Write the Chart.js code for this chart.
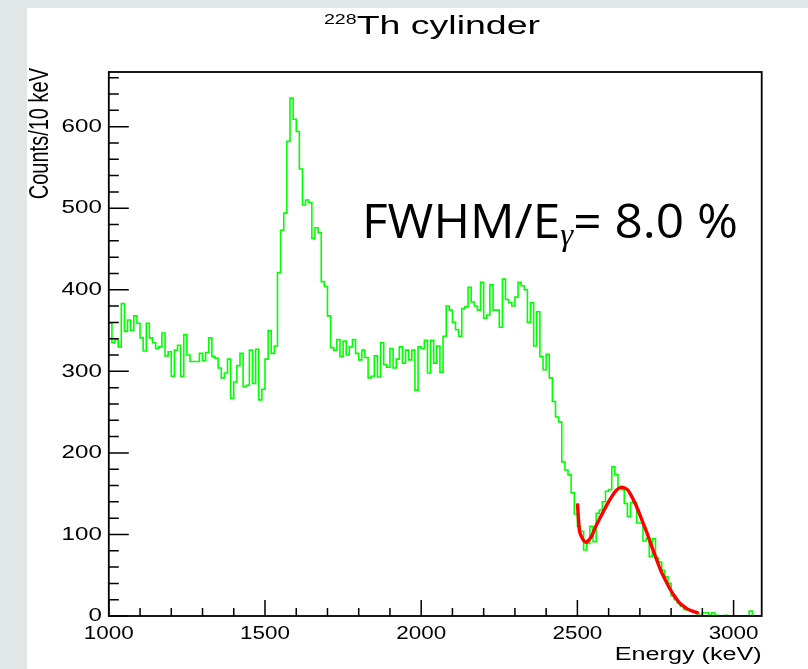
<!DOCTYPE html>
<html>
<head>
<meta charset="utf-8">
<script src="https://cdn.jsdelivr.net/npm/chart.js@4.4.0/dist/chart.umd.min.js"></script>
<style>
html, body { margin: 0; padding: 0; background: #e1e6e6; }
canvas { display: block; }
</style>
</head>
<body>
<canvas id="spectrum" width="808" height="669"></canvas>
<script>
// histogram: 10 keV bins starting at 1000 keV
const binLow = 1000;
const binWidth = 10;
const counts = [
    359, 359, 335, 339, 330, 383, 349, 363, 350, 368,
    359, 341, 325, 359, 341, 335, 328, 330, 347, 319,
    324, 294, 326, 332, 294, 345, 320, 312, 312, 312,
    322, 313, 323, 341, 318, 316, 304, 292, 298, 315,
    267, 287, 307, 322, 281, 283, 326, 285, 327, 265,
    278, 315, 350, 322, 331, 421, 473, 494, 582, 635,
    609, 594, 548, 504, 510, 507, 463, 476, 470, 410,
    404, 368, 329, 326, 339, 318, 337, 320, 330, 339,
    322, 314, 326, 317, 292, 294, 319, 293, 335, 308,
    305, 328, 304, 315, 330, 310, 326, 314, 326, 277,
    330, 328, 338, 298, 338, 310, 331, 299, 343, 380,
    375, 360, 351, 343, 377, 379, 403, 385, 380, 375,
    409, 365, 369, 406, 375, 375, 354, 413, 388, 384,
    380, 391, 409, 405, 400, 360, 384, 331, 373, 318,
    302, 321, 292, 263, 244, 238, 189, 179, 173, 151,
    125, 110, 104, 81, 89, 110, 91, 126, 130, 140,
    153, 155, 183, 173, 157, 155, 138, 122, 139, 139,
    114, 114, 92, 95, 73, 95, 71, 66, 56, 48,
    40, 25, 20, 16, 12, 8, 7, 7, 5, 3,
    1, 4, 4, 1, 4, 1, 0, 0, 1, 0,
    0, 0, 0, 0, 0, 0, 6, 0, 0
];

// fitted peak, points
const fitEnergy = [2500, 2503, 2507, 2513, 2520, 2527, 2535, 2545, 2556, 2569,
    2583, 2596, 2610, 2623, 2637, 2648, 2661, 2671, 2682, 2693,
    2703, 2714, 2725, 2735, 2746, 2756, 2766, 2777, 2787, 2797,
    2808, 2818, 2828, 2839, 2849, 2859, 2870, 2881, 2888];
const fitCounts = [138, 122, 103.5, 97.4, 92.5, 90.4, 92.5, 97.4, 107.6, 117.8,
    128, 137.4, 146.4, 153.4, 157.5, 157.5, 154.6, 148.5, 140.3, 130.9,
    121.1, 110.4, 99.4, 88.4, 76.9, 66.7, 56.5, 47.5, 40.1, 32.8,
    25.8, 20.5, 15.6, 12.3, 9.4, 7.4, 5.7, 4.5, 3.3];

const xTickValues = [1000, 1500, 2000, 2500, 3000];
const yTickValues = [0, 100, 200, 300, 400, 500, 600];

const histPoints = counts.map((c, i) => ({ x: binLow + i * binWidth, y: c }));
histPoints.push({ x: binLow + counts.length * binWidth, y: counts[counts.length - 1] });

const fitPoints = fitEnergy.map((e, i) => ({ x: e, y: fitCounts[i] }));

const rootFont = '"Liberation Sans", Arial, sans-serif';

function stretchedText(ctx, text, x, y, size, align, baseline, sx) {
    ctx.save();
    ctx.translate(x, y);
    ctx.scale(sx, 1);
    ctx.font = size + 'px ' + rootFont;
    ctx.textAlign = align;
    ctx.textBaseline = baseline;
    ctx.fillText(text, 0, 0);
    ctx.restore();
}

const backgroundPlugin = {
    id: 'background',
    beforeDraw(chart) {
        const ctx = chart.ctx;
        ctx.save();
        ctx.fillStyle = '#e1e6e6';
        ctx.fillRect(0, 0, chart.width, chart.height);
        ctx.fillStyle = '#ffffff';
        ctx.fillRect(27, 8, chart.width - 27, chart.height - 8);
        ctx.restore();
    }
};

const framePlugin = {
    id: 'rootFrame',
    afterDatasetsDraw(chart) {
        const ctx = chart.ctx;
        const area = chart.chartArea;
        const xs = chart.scales.x;
        const ys = chart.scales.y;
        ctx.save();
        ctx.strokeStyle = '#000';
        ctx.lineWidth = 1.5;
        ctx.beginPath();
        // bottom axis ticks, pointing inward
        for (let v = 1000; v <= xs.max; v += 100) {
            const px = xs.getPixelForValue(v);
            const len = (v % 500 === 0) ? 16 : 8;
            ctx.moveTo(px, area.bottom);
            ctx.lineTo(px, area.bottom - len);
        }
        // left axis ticks
        for (let v = 0; v <= ys.max; v += 20) {
            const py = ys.getPixelForValue(v);
            const len = (v % 100 === 0) ? 20 : 10;
            ctx.moveTo(area.left, py);
            ctx.lineTo(area.left + len, py);
        }
        ctx.stroke();
        ctx.lineWidth = 1.8;
        ctx.strokeRect(area.left, area.top, area.right - area.left, area.bottom - area.top);
        ctx.restore();
    },
    afterDraw(chart) {
        const ctx = chart.ctx;
        const area = chart.chartArea;
        const xs = chart.scales.x;
        const ys = chart.scales.y;
        ctx.save();
        ctx.fillStyle = '#000';

        xs.ticks.forEach(t => {
            stretchedText(ctx, String(t.value), xs.getPixelForValue(t.value), area.bottom + 8, 19, 'center', 'top', 1.18);
        });
        ys.ticks.forEach(t => {
            stretchedText(ctx, String(t.value), area.left - 7, ys.getPixelForValue(t.value), 19, 'right', 'middle', 1.27);
        });

        // axis titles
        stretchedText(ctx, 'Energy (keV)', area.right, 660, 18, 'right', 'alphabetic', 1.4);
        ctx.save();
        ctx.translate(48, 68);
        ctx.rotate(-Math.PI / 2);
        ctx.scale(1, 1.42);
        ctx.font = '20px ' + rootFont;
        ctx.textAlign = 'right';
        ctx.textBaseline = 'alphabetic';
        ctx.fillText('Counts/10 keV', 0, 0);
        ctx.restore();

        // title with superscript mass number
        ctx.font = '25px ' + rootFont;
        const mainW = ctx.measureText('Th cylinder').width * 1.5;
        ctx.font = '14px ' + rootFont;
        const supW = ctx.measureText('228').width * 1.4;
        const startX = 432 - (mainW + supW) / 2;
        stretchedText(ctx, '228', startX, 24, 14, 'left', 'alphabetic', 1.4);
        stretchedText(ctx, 'Th cylinder', startX + supW, 34, 25, 'left', 'alphabetic', 1.5);

        // resolution label
        const labelFont = '"Open Sans", "Noto Sans", sans-serif';
        ctx.save();
        ctx.translate(362, 238);
        ctx.scale(1.055, 1);
        ctx.textBaseline = 'alphabetic';
        ctx.textAlign = 'left';
        ctx.font = '47px ' + labelFont;
        let x = 0;
        ctx.fillText('FWHM/E', x, 0);
        x += ctx.measureText('FWHM/E').width;
        ctx.font = 'italic 31px "Liberation Serif", serif';
        ctx.fillText('\u03b3', x, 7);
        x += ctx.measureText('\u03b3').width;
        ctx.font = '47px ' + labelFont;
        ctx.fillText('= 8.0 %', x, 0);
        ctx.restore();
        ctx.restore();
    }
};

new Chart(document.getElementById('spectrum'), {
    type: 'line',
    data: {
        datasets: [
            {
                label: 'fit',
                data: fitPoints,
                borderColor: '#ff0000',
                borderWidth: 3.4,
                pointRadius: 0,
                tension: 0.3,
                order: 1
            },
            {
                label: 'Counts/10 keV',
                data: histPoints,
                borderColor: '#00ff00',
                borderWidth: 1.6,
                pointRadius: 0,
                stepped: 'after',
                order: 2
            }
        ]
    },
    options: {
        responsive: false,
        animation: false,
        devicePixelRatio: 1,
        layout: { padding: { left: 28.8, right: 46.3, top: 72, bottom: 13 } },
        scales: {
            x: {
                type: 'linear',
                min: 1000,
                max: 3090,
                grid: { display: false },
                border: { display: false },
                ticks: { display: false },
                afterBuildTicks: s => { s.ticks = xTickValues.map(v => ({ value: v })); },
                afterFit: s => { s.height = 40; }
            },
            y: {
                type: 'linear',
                min: 0,
                max: 667,
                grid: { display: false },
                border: { display: false },
                ticks: { display: false },
                afterBuildTicks: s => { s.ticks = yTickValues.map(v => ({ value: v })); },
                afterFit: s => { s.width = 80; }
            }
        },
        plugins: {
            legend: { display: false },
            tooltip: { enabled: false }
        }
    },
    plugins: [backgroundPlugin, framePlugin]
});
</script>
</body>
</html>
